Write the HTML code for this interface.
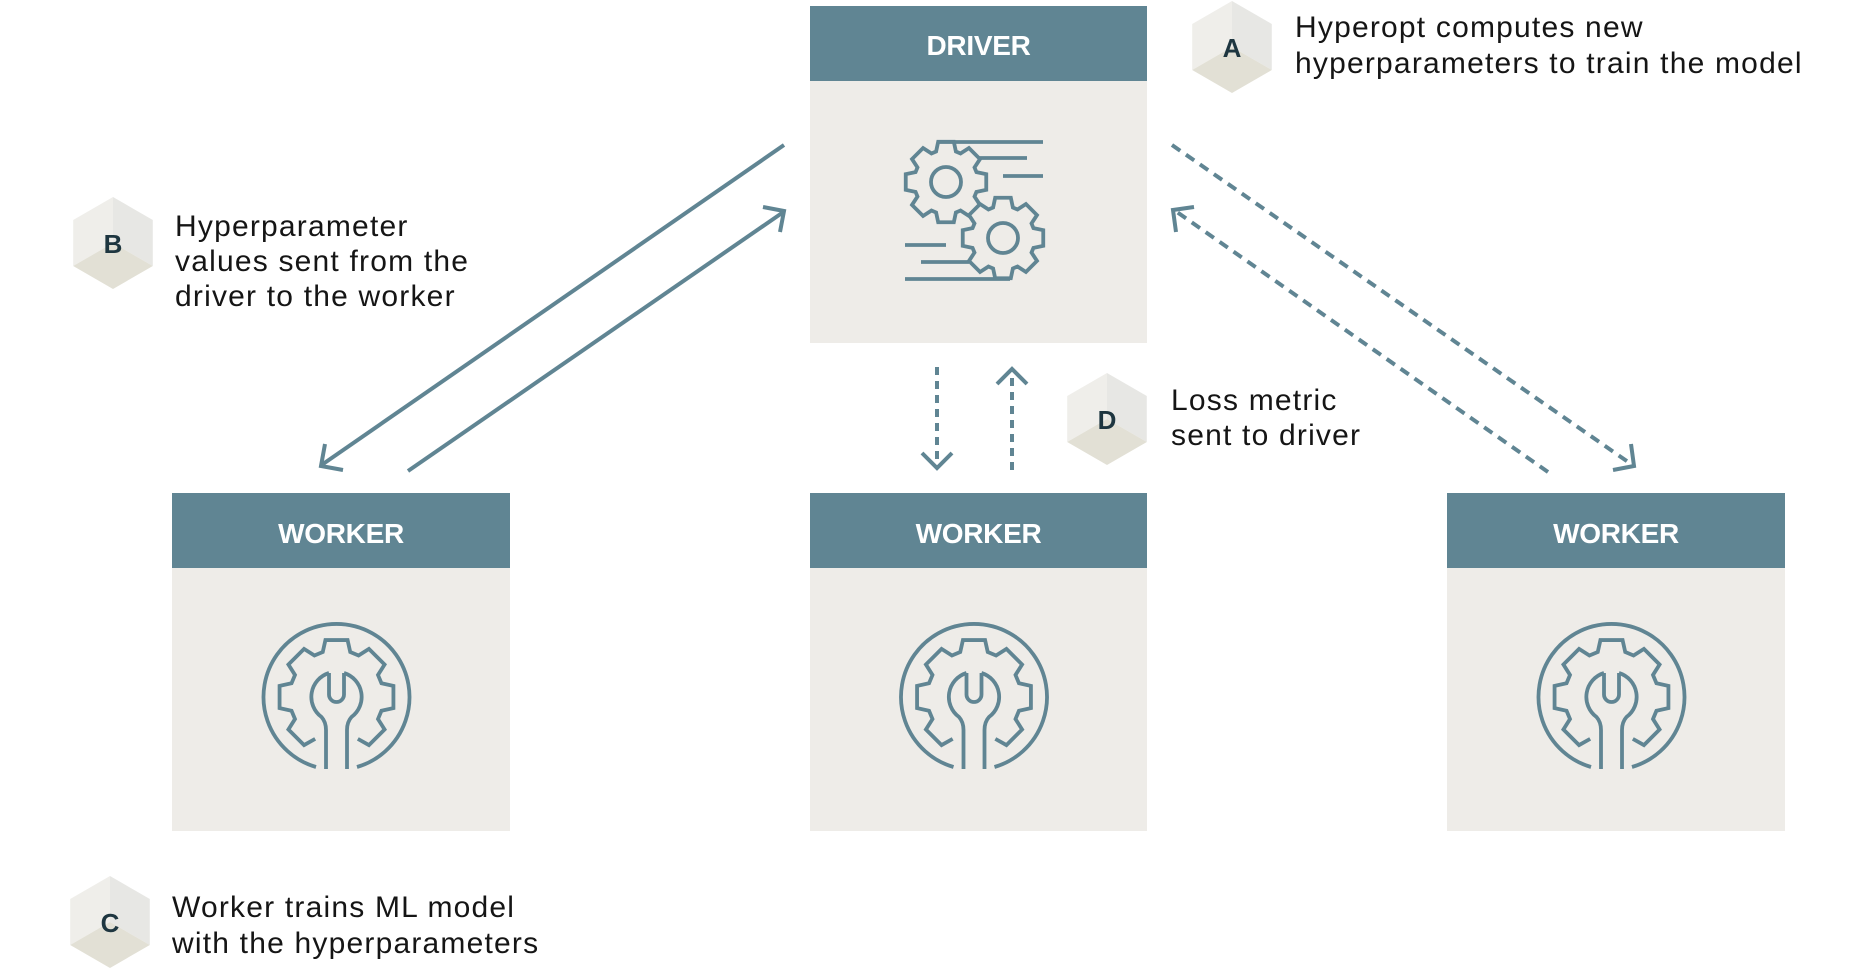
<!DOCTYPE html>
<html>
<head>
<meta charset="utf-8">
<style>
html,body{margin:0;padding:0;background:#ffffff;}
svg{display:block;}
.lbl{font-family:"Liberation Sans",Arial,sans-serif;font-size:30px;fill:#151515;letter-spacing:1.2px;}
.hdr{font-family:"Liberation Sans",Arial,sans-serif;font-size:28px;font-weight:bold;fill:#ffffff;letter-spacing:-0.3px;}
.hexl{font-family:"Liberation Sans",Arial,sans-serif;font-size:26px;font-weight:bold;fill:#1e3640;}
</style>
</head>
<body>
<svg width="1875" height="970" viewBox="0 0 1875 970" xmlns="http://www.w3.org/2000/svg">
  <rect x="0" y="0" width="1875" height="970" fill="#ffffff"/>

  <!-- DRIVER box -->
  <rect x="810" y="6" width="337" height="337" fill="#eeece8"/>
  <rect x="810" y="6" width="337" height="75" fill="#608593"/>
  <text class="hdr" x="978.5" y="55" text-anchor="middle">DRIVER</text>

  <!-- Driver gears icon -->
  <g fill="none" stroke="#608593" stroke-width="3.8" stroke-linejoin="miter">
    <polygon transform="translate(946,182)" points="30.44,-9.89 40.25,-7.82 40.25,7.82 30.44,9.89 28.51,14.53 33.99,22.93 22.93,33.99 14.53,28.51 9.89,30.44 7.82,40.25 -7.82,40.25 -9.89,30.44 -14.53,28.51 -22.93,33.99 -33.99,22.93 -28.51,14.53 -30.44,9.89 -40.25,7.82 -40.25,-7.82 -30.44,-9.89 -28.51,-14.53 -33.99,-22.93 -22.93,-33.99 -14.53,-28.51 -9.89,-30.44 -7.82,-40.25 7.82,-40.25 9.89,-30.44 14.53,-28.51 22.93,-33.99 33.99,-22.93 28.51,-14.53"/>
    <circle cx="946" cy="182" r="15"/>
    <polygon transform="translate(1003,238)" fill="#eeece8" points="30.44,-9.89 40.25,-7.82 40.25,7.82 30.44,9.89 28.51,14.53 33.99,22.93 22.93,33.99 14.53,28.51 9.89,30.44 7.82,40.25 -7.82,40.25 -9.89,30.44 -14.53,28.51 -22.93,33.99 -33.99,22.93 -28.51,14.53 -30.44,9.89 -40.25,7.82 -40.25,-7.82 -30.44,-9.89 -28.51,-14.53 -33.99,-22.93 -22.93,-33.99 -14.53,-28.51 -9.89,-30.44 -7.82,-40.25 7.82,-40.25 9.89,-30.44 14.53,-28.51 22.93,-33.99 33.99,-22.93 28.51,-14.53"/>
    <circle cx="1003" cy="238" r="15"/>
    <line x1="938" y1="142" x2="1043" y2="142"/>
    <line x1="978" y1="158" x2="1027" y2="158"/>
    <line x1="1003" y1="176" x2="1043" y2="176"/>
    <line x1="905" y1="245" x2="946" y2="245"/>
    <line x1="921" y1="262" x2="969" y2="262"/>
    <line x1="905" y1="279" x2="1010" y2="279"/>
  </g>

  <!-- WORKER boxes -->
  <g>
    <rect x="172" y="493" width="338" height="338" fill="#eeece8"/>
    <rect x="172" y="493" width="338" height="75" fill="#608593"/>
    <text class="hdr" x="341" y="543" text-anchor="middle">WORKER</text>
    <g transform="translate(336.5,697)" fill="none" stroke="#608593" stroke-width="3.8">
      <path d="M-20.5,70 A73,73 0 1 1 20.5,70"/>
      <path d="M-21.34,41.88 L-32.43,48.08 L-48.08,32.43 L-41.50,22.07 L-44.95,13.74 L-56.93,11.07 L-56.93,-11.07 L-44.95,-13.74 L-41.50,-22.07 L-48.08,-32.43 L-32.43,-48.08 L-22.07,-41.50 L-13.74,-44.95 L-11.07,-56.93 L11.07,-56.93 L13.74,-44.95 L22.07,-41.50 L32.43,-48.08 L48.08,-32.43 L41.50,-22.07 L44.95,-13.74 L56.93,-11.07 L56.93,11.07 L44.95,13.74 L41.50,22.07 L48.08,32.43 L32.43,48.08 L21.34,41.88"/>
      <path d="M-7.5,-24 L-7.5,-2.5 A7.5,7.5 0 0 0 7.5,-2.5 L7.5,-24"/>
      <path d="M-7.5,-24 A25,25 0 0 0 -15,20 Q-10.5,25 -10.5,33 L-10.5,72"/>
      <path d="M7.5,-24 A25,25 0 0 1 15,20 Q10.5,25 10.5,33 L10.5,72"/>
    </g>
  </g>

  <g>
    <rect x="810" y="493" width="337" height="338" fill="#eeece8"/>
    <rect x="810" y="493" width="337" height="75" fill="#608593"/>
    <text class="hdr" x="978.5" y="543" text-anchor="middle">WORKER</text>
    <g transform="translate(974,697)" fill="none" stroke="#608593" stroke-width="3.8">
      <path d="M-20.5,70 A73,73 0 1 1 20.5,70"/>
      <path d="M-21.34,41.88 L-32.43,48.08 L-48.08,32.43 L-41.50,22.07 L-44.95,13.74 L-56.93,11.07 L-56.93,-11.07 L-44.95,-13.74 L-41.50,-22.07 L-48.08,-32.43 L-32.43,-48.08 L-22.07,-41.50 L-13.74,-44.95 L-11.07,-56.93 L11.07,-56.93 L13.74,-44.95 L22.07,-41.50 L32.43,-48.08 L48.08,-32.43 L41.50,-22.07 L44.95,-13.74 L56.93,-11.07 L56.93,11.07 L44.95,13.74 L41.50,22.07 L48.08,32.43 L32.43,48.08 L21.34,41.88"/>
      <path d="M-7.5,-24 L-7.5,-2.5 A7.5,7.5 0 0 0 7.5,-2.5 L7.5,-24"/>
      <path d="M-7.5,-24 A25,25 0 0 0 -15,20 Q-10.5,25 -10.5,33 L-10.5,72"/>
      <path d="M7.5,-24 A25,25 0 0 1 15,20 Q10.5,25 10.5,33 L10.5,72"/>
    </g>
  </g>

  <g>
    <rect x="1447" y="493" width="338" height="338" fill="#eeece8"/>
    <rect x="1447" y="493" width="338" height="75" fill="#608593"/>
    <text class="hdr" x="1616" y="543" text-anchor="middle">WORKER</text>
    <g transform="translate(1611.5,697)" fill="none" stroke="#608593" stroke-width="3.8">
      <path d="M-20.5,70 A73,73 0 1 1 20.5,70"/>
      <path d="M-21.34,41.88 L-32.43,48.08 L-48.08,32.43 L-41.50,22.07 L-44.95,13.74 L-56.93,11.07 L-56.93,-11.07 L-44.95,-13.74 L-41.50,-22.07 L-48.08,-32.43 L-32.43,-48.08 L-22.07,-41.50 L-13.74,-44.95 L-11.07,-56.93 L11.07,-56.93 L13.74,-44.95 L22.07,-41.50 L32.43,-48.08 L48.08,-32.43 L41.50,-22.07 L44.95,-13.74 L56.93,-11.07 L56.93,11.07 L44.95,13.74 L41.50,22.07 L48.08,32.43 L32.43,48.08 L21.34,41.88"/>
      <path d="M-7.5,-24 L-7.5,-2.5 A7.5,7.5 0 0 0 7.5,-2.5 L7.5,-24"/>
      <path d="M-7.5,-24 A25,25 0 0 0 -15,20 Q-10.5,25 -10.5,33 L-10.5,72"/>
      <path d="M7.5,-24 A25,25 0 0 1 15,20 Q10.5,25 10.5,33 L10.5,72"/>
    </g>
  </g>

  <!-- Solid arrows (left) -->
  <g fill="none" stroke="#608593" stroke-width="4" stroke-linecap="butt" stroke-linejoin="miter">
    <line x1="784" y1="145" x2="323" y2="464"/>
    <polyline points="325,444 321,466 343,470"/>
    <line x1="408" y1="471" x2="782" y2="213"/>
    <polyline points="763,207 784,211 780,232"/>
  </g>

  <!-- Dashed arrows (right) -->
  <g fill="none" stroke="#608593" stroke-width="4">
    <line x1="1172" y1="145" x2="1631" y2="464" stroke-dasharray="10 7"/>
    <polyline points="1631,444 1634,466 1613,470"/>
    <line x1="1548" y1="472" x2="1177" y2="212" stroke-dasharray="10 7"/>
    <polyline points="1194,207 1173,210 1176,232"/>
  </g>

  <!-- Vertical dashed arrows -->
  <g fill="none" stroke="#608593" stroke-width="4">
    <line x1="937" y1="367" x2="937" y2="466" stroke-dasharray="8 6"/>
    <polyline points="922,453 937,468 952,453"/>
    <line x1="1012" y1="470" x2="1012" y2="371" stroke-dasharray="8 6"/>
    <polyline points="997,384 1012,369 1027,384"/>
  </g>

  <!-- Hexagon badges -->
  <g transform="translate(1232,47)">
    <polygon points="0,-46 0,0 -39.8,23 -39.8,-23" fill="#efeeea"/>
    <polygon points="0,-46 39.8,-23 39.8,23 0,0" fill="#e7e7e4"/>
    <polygon points="0,0 39.8,23 0,46 -39.8,23" fill="#e2e0d5"/>
    <text class="hexl" x="0" y="10" text-anchor="middle">A</text>
  </g>
  <g transform="translate(113,243)">
    <polygon points="0,-46 0,0 -39.8,23 -39.8,-23" fill="#efeeea"/>
    <polygon points="0,-46 39.8,-23 39.8,23 0,0" fill="#e7e7e4"/>
    <polygon points="0,0 39.8,23 0,46 -39.8,23" fill="#e2e0d5"/>
    <text class="hexl" x="0" y="10" text-anchor="middle">B</text>
  </g>
  <g transform="translate(110,922)">
    <polygon points="0,-46 0,0 -39.8,23 -39.8,-23" fill="#efeeea"/>
    <polygon points="0,-46 39.8,-23 39.8,23 0,0" fill="#e7e7e4"/>
    <polygon points="0,0 39.8,23 0,46 -39.8,23" fill="#e2e0d5"/>
    <text class="hexl" x="0" y="10" text-anchor="middle">C</text>
  </g>
  <g transform="translate(1107,419)">
    <polygon points="0,-46 0,0 -39.8,23 -39.8,-23" fill="#efeeea"/>
    <polygon points="0,-46 39.8,-23 39.8,23 0,0" fill="#e7e7e4"/>
    <polygon points="0,0 39.8,23 0,46 -39.8,23" fill="#e2e0d5"/>
    <text class="hexl" x="0" y="10" text-anchor="middle">D</text>
  </g>

  <!-- Labels -->
  <text class="lbl" x="1295" y="37">Hyperopt computes new</text>
  <text class="lbl" x="1295" y="73">hyperparameters to train the model</text>

  <text class="lbl" x="175" y="236">Hyperparameter</text>
  <text class="lbl" x="175" y="271">values sent from the</text>
  <text class="lbl" x="175" y="306">driver to the worker</text>

  <text class="lbl" x="1171" y="410">Loss metric</text>
  <text class="lbl" x="1171" y="445">sent to driver</text>

  <text class="lbl" x="172" y="917">Worker trains ML model</text>
  <text class="lbl" x="172" y="953">with the hyperparameters</text>
</svg>
</body>
</html>
